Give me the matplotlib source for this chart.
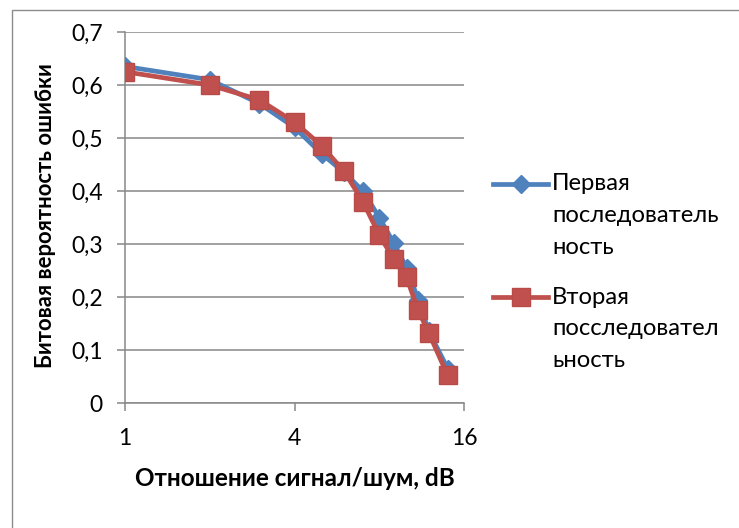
import matplotlib
matplotlib.use("Agg")
import matplotlib.pyplot as plt
from matplotlib.lines import Line2D
from matplotlib.patches import Rectangle
from matplotlib.ticker import FixedLocator, FuncFormatter, NullLocator

plt.rcParams["font.family"] = ["Lato", "Open Sans", "DejaVu Sans"]

# Signal-to-noise ratio values (dB) and bit error probabilities
snr = [1, 2, 3, 4, 5, 6, 7, 8, 9, 10, 11, 12, 14]
ber_first = [0.635, 0.610, 0.565, 0.520, 0.470, 0.435, 0.400, 0.350, 0.302, 0.255, 0.195, 0.135, 0.065]
ber_second = [0.625, 0.600, 0.572, 0.530, 0.485, 0.437, 0.380, 0.317, 0.272, 0.237, 0.175, 0.132, 0.052]

series_labels = [
    ["Первая", "последователь", "ность"],
    ["Вторая", "посследовател", "ьность"],
]
x_ticks = [1, 4, 16]
y_ticks = [0, 0.1, 0.2, 0.3, 0.4, 0.5, 0.6, 0.7]
x_title = "Отношение сигнал/шум, dB"
y_title = "Битовая вероятность ошибки"

BLUE = "#4F81BD"
RED = "#C0504D"
RED_EDGE = "#B84B48"
GRID = "#888888"

W, H = 739, 528
fig = plt.figure(figsize=(W / 100, H / 100), dpi=100)

# outer chart-area frame
fig.patches.append(Rectangle((12 / W, -0.1), 1.0, 1 - 10 / H + 0.1,
                             transform=fig.transFigure, fill=False,
                             edgecolor="#8c8c8c", linewidth=1.0))

ax = fig.add_axes([125 / W, 1 - 403 / H, (464 - 125) / W, (403 - 32) / H])

blue_style = dict(color=BLUE, lw=3.4, marker="D", ms=9,
                  markerfacecolor=BLUE, markeredgecolor=BLUE)
red_style = dict(color=RED, lw=3.4, marker="s", ms=13,
                 markerfacecolor=RED, markeredgecolor=RED_EDGE, markeredgewidth=1)

ax.plot(snr, ber_first, zorder=3, **blue_style)
ax.plot(snr, ber_second, zorder=4, **red_style)

ax.set_xscale("log", base=2)
ax.set_xlim(1, 16)
ax.set_ylim(0, 0.7)
ax.xaxis.set_major_locator(FixedLocator(x_ticks))
ax.xaxis.set_minor_locator(NullLocator())
ax.xaxis.set_major_formatter(FuncFormatter(lambda v, p: f"{v:g}"))
ax.yaxis.set_major_locator(FixedLocator(y_ticks))
ax.yaxis.set_major_formatter(FuncFormatter(lambda v, p: f"{v:g}".replace(".", ",")))

ax.grid(axis="y", color=GRID, lw=1.1)
ax.set_axisbelow(True)
for side in ("top", "right"):
    ax.spines[side].set_visible(False)
for side in ("left", "bottom"):
    ax.spines[side].set_color(GRID)
    ax.spines[side].set_linewidth(1.1)

ax.tick_params(axis="both", direction="out", length=6, width=1.1, color=GRID,
               labelsize=16.5, labelcolor="black")
ax.tick_params(axis="y", pad=10)
ax.tick_params(axis="x", pad=12)

ax.set_xlabel(x_title, fontsize=17.5, fontweight="bold", va="center")
ax.xaxis.set_label_coords(0.5, (403 - 479) / (403 - 32))
ax.set_ylabel(y_title, fontsize=15.8, fontweight="bold", va="center")
ax.yaxis.set_label_coords((46 - 125) / (464 - 125), (403 - 216) / (403 - 32))

# legend entries: handle aligned with the first text line
first_line_y = [184, 297]
line_gap = 31.7
for lines, st, y0 in zip(series_labels, [blue_style, red_style], first_line_y):
    yf = 1 - y0 / H
    fig.add_artist(Line2D([493 / W, 548 / W], [yf, yf], transform=fig.transFigure,
                          color=st["color"], lw=st["lw"]))
    fig.add_artist(Line2D([520.5 / W], [yf], transform=fig.transFigure, linestyle="none",
                          marker=st["marker"], ms=st["ms"],
                          markerfacecolor=st["markerfacecolor"],
                          markeredgecolor=st["markeredgecolor"]))
    for i, txt in enumerate(lines):
        fig.text(552 / W, 1 - (y0 + i * line_gap) / H, txt, fontsize=17.2,
                 ha="left", va="center")

fig.savefig("out.png", dpi=100)
